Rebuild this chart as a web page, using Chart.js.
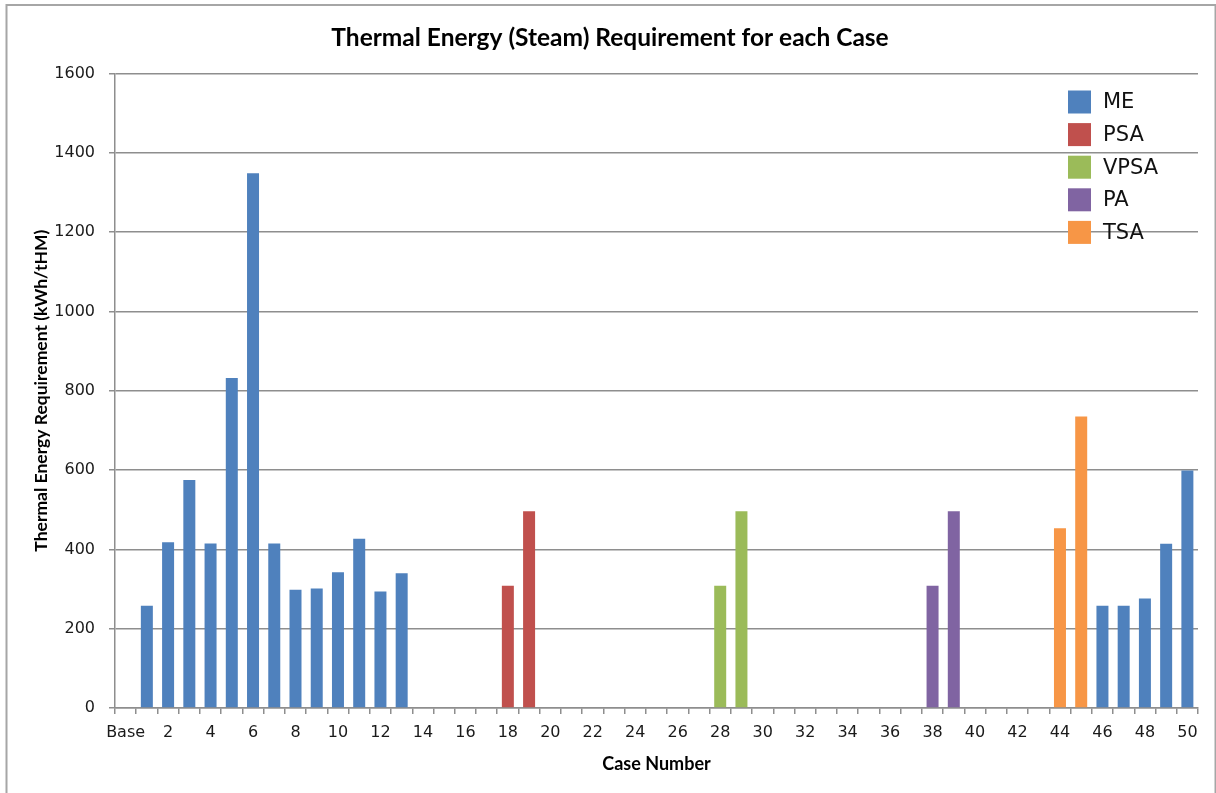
<!DOCTYPE html>
<html>
<head>
<meta charset="utf-8">
<title>Thermal Energy (Steam) Requirement for each Case</title>
<script src="https://cdn.jsdelivr.net/npm/chart.js@4/dist/chart.umd.min.js"></script>
<style>
  html, body { margin: 0; padding: 0; background: #ffffff; }
  #wrap { width: 1216px; height: 793px; }
</style>
</head>
<body>
<div id="wrap"><canvas id="chart" width="1216" height="793"></canvas></div>
<script>
// Case labels along the x axis
const caseLabels = ['Base','1','2','3','4','5','6','7','8','9','10',
  '11','12','13','14','15','16','17','18','19','20',
  '21','22','23','24','25','26','27','28','29','30',
  '31','32','33','34','35','36','37','38','39','40',
  '41','42','43','44','45','46','47','48','49','50'];

// Thermal energy (kWh/tHM) per case, one array per separation method
const meValues = [null,258,418,575,415,832,1348,415,298,301,342,
  427,294,340,null,null,null,null,null,null,null,
  null,null,null,null,null,null,null,null,null,null,
  null,null,null,null,null,null,null,null,null,null,
  null,null,null,null,null,258,258,276,414,599];
const psaValues = [null,null,null,null,null,null,null,null,null,null,null,
  null,null,null,null,null,null,null,308,496,null,
  null,null,null,null,null,null,null,null,null,null,
  null,null,null,null,null,null,null,null,null,null,
  null,null,null,null,null,null,null,null,null,null];
const vpsaValues = [null,null,null,null,null,null,null,null,null,null,null,
  null,null,null,null,null,null,null,null,null,null,
  null,null,null,null,null,null,null,308,496,null,
  null,null,null,null,null,null,null,null,null,null,
  null,null,null,null,null,null,null,null,null,null];
const paValues = [null,null,null,null,null,null,null,null,null,null,null,
  null,null,null,null,null,null,null,null,null,null,
  null,null,null,null,null,null,null,null,null,null,
  null,null,null,null,null,null,null,308,496,null,
  null,null,null,null,null,null,null,null,null,null];
const tsaValues = [null,null,null,null,null,null,null,null,null,null,null,
  null,null,null,null,null,null,null,null,null,null,
  null,null,null,null,null,null,null,null,null,null,
  null,null,null,null,null,null,null,null,null,null,
  null,null,null,453,735,null,null,null,null,null];

const seriesNames = ['ME','PSA','VPSA','PA','TSA'];
const seriesColors = ['#4F81BD','#C0504D','#9BBB59','#8064A2','#F79646'];
const seriesValues = [meValues, psaValues, vpsaValues, paValues, tsaValues];

const yTicks = [0,200,400,600,800,1000,1200,1400,1600];

const GRID = '#8e8e8e';

// Outer frame around the whole chart
const framePlugin = {
  id: 'frame',
  beforeDraw(chart) {
    const ctx = chart.ctx;
    ctx.save();
    ctx.fillStyle = '#ffffff';
    ctx.fillRect(0, 0, chart.width, chart.height);
    ctx.strokeStyle = '#a6a6a6';
    ctx.lineWidth = 2;
    ctx.strokeRect(6.5, 5, 1209, 800);
    ctx.restore();
  }
};

// Legend drawn inside the plot, top-right, from the chart's datasets
const innerLegend = {
  id: 'innerLegend',
  afterDraw(chart) {
    const ctx = chart.ctx;
    ctx.save();
    ctx.font = '21px "DejaVu Sans"';
    ctx.textBaseline = 'middle';
    ctx.textAlign = 'left';
    chart.data.datasets.forEach((ds, i) => {
      const cy = 102 + i * 32.6;
      ctx.fillStyle = ds.backgroundColor;
      ctx.fillRect(1068, cy - 11.5, 23, 23);
      ctx.fillStyle = '#111111';
      ctx.fillText(ds.label, 1103, cy + 1);
    });
    ctx.restore();
  }
};

const datasets = seriesNames.map((name, i) => ({
  label: name,
  data: seriesValues[i],
  backgroundColor: seriesColors[i],
  borderWidth: 0,
  barPercentage: 0.565,
  categoryPercentage: 1.0
}));

new Chart(document.getElementById('chart'), {
  type: 'bar',
  data: { labels: caseLabels, datasets },
  plugins: [framePlugin, innerLegend],
  options: {
    responsive: false,
    animation: false,
    layout: { padding: { left: 22, right: 18, top: 0, bottom: 0 } },
    plugins: {
      legend: { display: false },
      tooltip: { enabled: false },
      title: {
        display: true,
        text: 'Thermal Energy (Steam) Requirement for each Case',
        color: '#000000',
        font: { family: 'Lato', size: 24.5, weight: 'bold' },
        padding: { top: 23, bottom: 21 }
      }
    },
    scales: {
      x: {
        stacked: true,
        offset: true,
        afterFit(scale) { scale.height = 85; },
        border: { display: true, color: GRID, width: 1.5 },
        grid: {
          display: true,
          offset: true,
          drawOnChartArea: false,
          drawTicks: true,
          tickLength: 6,
          color: GRID,
          lineWidth: 1.5
        },
        ticks: {
          autoSkip: false,
          maxRotation: 0,
          minRotation: 0,
          padding: 9,
          color: '#1a1a1a',
          font: { family: 'DejaVu Sans', size: 16 },
          callback(value, index) {
            return index % 2 === 0 ? this.getLabelForValue(value) : '';
          }
        },
        title: {
          display: true,
          text: 'Case Number',
          color: '#000000',
          font: { family: 'Lato', size: 18, weight: 'bold' },
          padding: { top: 0, bottom: 18 }
        }
      },
      y: {
        stacked: true,
        min: 0,
        max: 1600,
        afterFit(scale) { scale.width = 93; },
        afterBuildTicks(scale) { scale.ticks = yTicks.map(v => ({ value: v })); },
        border: { display: true, color: GRID, width: 1.5 },
        grid: {
          display: true,
          drawOnChartArea: true,
          drawTicks: true,
          tickLength: 6,
          color: GRID,
          lineWidth: 1.5
        },
        ticks: {
          padding: 14,
          color: '#1a1a1a',
          font: { family: 'DejaVu Sans', size: 16 },
          callback(value) { return String(value); }
        },
        title: {
          display: true,
          text: 'Thermal Energy Requirement (kWh/tHM)',
          color: '#000000',
          font: { family: 'Lato', size: 17.5, weight: 'bold' },
          padding: { top: 9, bottom: 0 }
        }
      }
    }
  }
});
</script>
</body>
</html>
